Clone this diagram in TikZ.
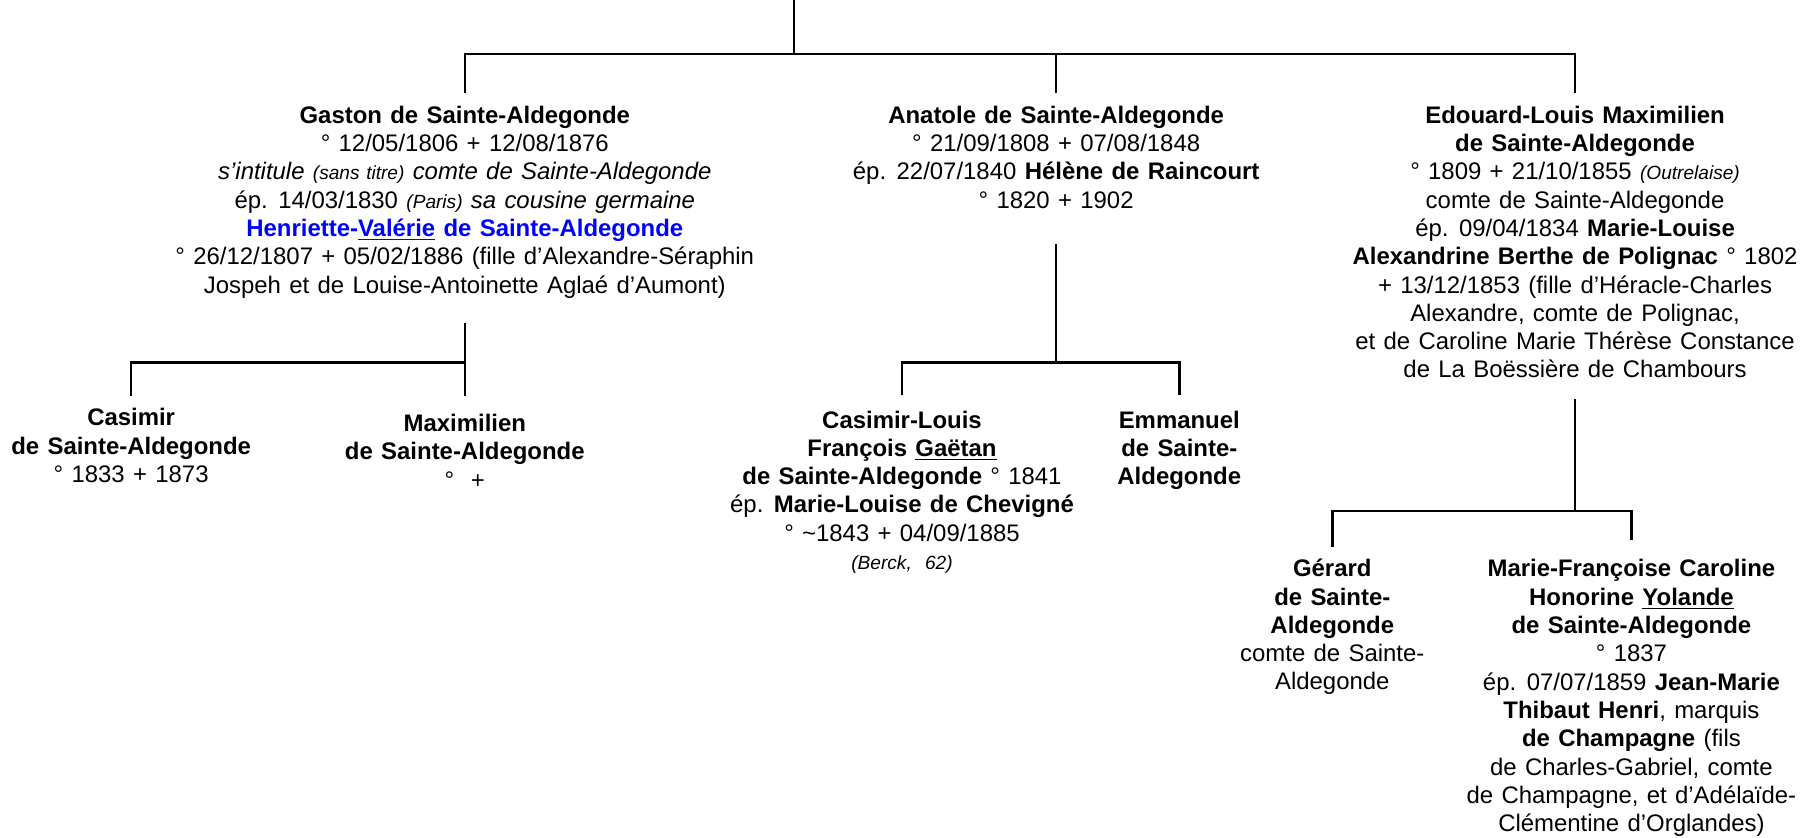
\documentclass[tikz,border=0pt]{standalone}
\usepackage{fontspec}
\setmainfont[WordSpace=1.25]{Liberation Sans}
\usepackage{xcolor}
\definecolor{spouseblue}{RGB}{0,0,255}
\tikzset{
  person/.style={align=center, anchor=north, inner sep=0pt, outer ysep=5.5pt, font=\fontsize{10.4}{12.3}\selectfont},
  tree/.style={line width=1.1pt}
}
\newcommand{\smallit}[1]{{\fontsize{8.3}{12.3}\selectfont\itshape #1}}

\begin{document}
\begin{tikzpicture}[x=0.5pt, y=-0.5pt]
  \useasboundingbox (0,0) rectangle (1568,728);
  % generation 1
  \node[person] (gaston) at (404,81) {\textbf{Gaston de Sainte-Aldegonde}\\
    ° 12/05/1806 + 12/08/1876\\
    \textit{s’intitule \smallit{(sans titre)} comte de Sainte-Aldegonde}\\
    ép. 14/03/1830 \smallit{(Paris)} \textit{sa cousine germaine}\\
    \textcolor{spouseblue}{\textbf{Henriette-\underline{Valérie} de Sainte-Aldegonde}}\\
    ° 26/12/1807 + 05/02/1886 (fille d’Alexandre-Séraphin\\
    Jospeh et de Louise-Antoinette Aglaé d’Aumont)};
  \node[person] (anatole) at (918,81) {\textbf{Anatole de Sainte-Aldegonde}\\
    ° 21/09/1808 + 07/08/1848\\
    ép. 22/07/1840 \textbf{Hélène de Raincourt}\\
    ° 1820 + 1902};
  \node[person] (edouard) at (1369,81) {\textbf{Edouard-Louis Maximilien}\\
    \textbf{de Sainte-Aldegonde}\\
    ° 1809 + 21/10/1855 \smallit{(Outrelaise)}\\
    comte de Sainte-Aldegonde\\
    ép. 09/04/1834 \textbf{Marie-Louise}\\
    \textbf{Alexandrine Berthe de Polignac} ° 1802\\
    + 13/12/1853 (fille d’Héracle-Charles\\
    Alexandre, comte de Polignac,\\
    et de Caroline Marie Thérèse Constance\\
    de La Boëssière de Chambours};
  % generation 2
  \node[person] (casimir) at (114,344) {\textbf{Casimir}\\
    \textbf{de Sainte-Aldegonde}\\
    ° 1833 + 1873};
  \node[person, outer ysep=8pt] (maximilien) at (404,344) {\textbf{Maximilien}\\
    \textbf{de Sainte-Aldegonde}\\
    °\ \ +};
  \node[person, outer ysep=7pt] (casimirlouis) at (784,343) {\textbf{Casimir-Louis}\\
    \textbf{François \underline{Gaëtan}}\\
    \textbf{de Sainte-Aldegonde} ° 1841\\
    ép. \textbf{Marie-Louise de Chevigné}\\
    ° \textasciitilde1843 + 04/09/1885\\
    \smallit{(Berck,\ \ 62)}};
  \node[person, outer ysep=7pt] (emmanuel) at (1025,343) {\textbf{Emmanuel}\\
    \textbf{de Sainte-}\\
    \textbf{Aldegonde}};
  \node[person] (gerard) at (1158,475) {\textbf{Gérard}\\
    \textbf{de Sainte-}\\
    \textbf{Aldegonde}\\
    comte de Sainte-\\
    Aldegonde};
  \node[person, outer ysep=8.7pt] (mariefrancoise) at (1418,469) {\textbf{Marie-Françoise Caroline}\\
    \textbf{Honorine \underline{Yolande}}\\
    \textbf{de Sainte-Aldegonde}\\
    ° 1837\\
    ép. 07/07/1859 \textbf{Jean-Marie}\\
    \textbf{Thibaut Henri}, marquis\\
    \textbf{de Champagne} (fils\\
    de Charles-Gabriel, comte\\
    de Champagne, et d’Adélaïde-\\
    Clémentine d’Orglandes)};
  % forks
  \coordinate (root) at (690,0);
  \coordinate (topfork) at (690,47);
  \coordinate (gstem) at (404,281);
  \coordinate (gfork) at (404,315);
  \coordinate (astem) at (918,212);
  \coordinate (afork) at (918,315);
  \coordinate (estem) at (1369,347);
  \coordinate (efork) at (1369,444);
  \draw[tree] (root) -- (topfork);
  \draw[tree] (gaston.north) |- (topfork) -| (edouard.north);
  \draw[tree] (anatole.north) -- (anatole.north |- topfork);
  \draw[tree] (gstem) -- (gfork);
  \draw[tree] (casimir.north) |- (gfork) -| (maximilien.north);
  \draw[tree] (astem) -- (afork);
  \draw[tree] (casimirlouis.north) |- (afork) -| (emmanuel.north);
  \draw[tree] (estem) -- (efork);
  \draw[tree] (gerard.north) |- (efork) -| (mariefrancoise.north);
\end{tikzpicture}
\end{document}
